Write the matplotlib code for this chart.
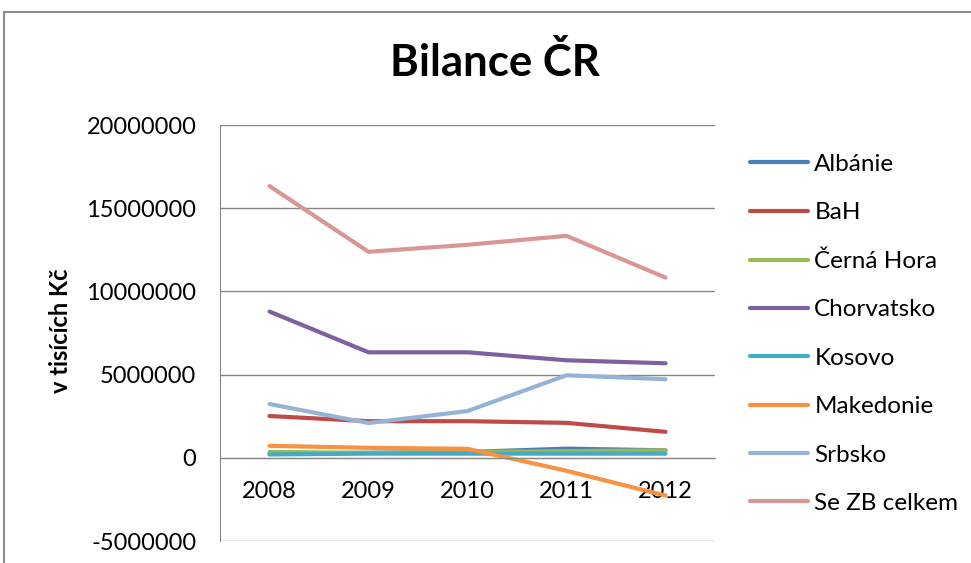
import matplotlib
matplotlib.use("Agg")
import matplotlib.pyplot as plt
from matplotlib.lines import Line2D

plt.rcParams['font.family'] = ['Lato', 'DejaVu Sans']

years = ['2008', '2009', '2010', '2011', '2012']
series_names = ['Albánie', 'BaH', 'Černá Hora', 'Chorvatsko', 'Kosovo',
                'Makedonie', 'Srbsko', 'Se ZB celkem']
albanie = [250000, 300000, 350000, 550000, 450000]
bah = [2510000, 2200000, 2200000, 2100000, 1560000]
cerna_hora = [350000, 300000, 350000, 400000, 450000]
chorvatsko = [8790000, 6340000, 6340000, 5860000, 5680000]
kosovo = [200000, 250000, 250000, 250000, 250000]
makedonie = [720000, 600000, 540000, -780000, -2270000]
srbsko = [3230000, 2090000, 2810000, 4960000, 4720000]
se_zb = [16330000, 12380000, 12800000, 13340000, 10830000]
values = [albanie, bah, cerna_hora, chorvatsko, kosovo, makedonie, srbsko, se_zb]
colors = ['#4A7EBB', '#BE4B48', '#98B954', '#7D60A0', '#46AAC5',
          '#F69240', '#95B3D7', '#D99694']
yticks = [-5000000, 0, 5000000, 10000000, 15000000, 20000000]

W, H = 971, 563
fig = plt.figure(figsize=(W / 100, H / 100), dpi=100)

# outer chart frame (cut off at right / bottom)
fig.add_artist(Line2D([4 / W, 1], [1 - 12 / H, 1 - 12 / H], color='#8c8c8c', lw=1.5))
fig.add_artist(Line2D([4 / W, 4 / W], [0, 1 - 12 / H], color='#8c8c8c', lw=1.5))

ax = fig.add_axes([220 / W, (H - 541) / H, 495 / W, 416 / H])
x = list(range(len(years)))
for name, vals, c in zip(series_names, values, colors):
    ax.plot(x, vals, color=c, lw=3, label=name, solid_capstyle='round')

ax.set_xlim(-0.5, len(years) - 0.5)
ax.set_ylim(yticks[0], yticks[-1])
ax.set_yticks(yticks)
ax.set_yticklabels([str(v) for v in yticks])
ax.set_xticks(x)
ax.set_xticklabels(years)
ax.grid(axis='y', color='#868686', lw=1)
ax.set_axisbelow(True)
for s in ['top', 'right']:
    ax.spines[s].set_visible(False)
ax.spines['left'].set_color('#868686')
ax.spines['bottom'].set_color('#868686')
ax.spines['bottom'].set_position(('data', 0))
ax.tick_params(axis='both', length=0, labelsize=17, colors='black')
ax.tick_params(axis='y', pad=17)
ax.tick_params(axis='x', pad=17)

fig.text(61 / W, 1 - 331 / H, 'v tisících Kč', fontsize=17, fontweight='bold',
         rotation=90, ha='center', va='center')
fig.text(495 / W, 1 - 62 / H, 'Bilance ČR', fontsize=31.5, fontweight='bold',
         ha='center', va='center')

leg = ax.legend(loc='upper left', bbox_to_anchor=(728 / W, 1 - 132 / H),
                bbox_transform=fig.transFigure, frameon=False,
                fontsize=17.5, handlelength=2.4, handletextpad=0.25,
                labelspacing=1.125)

fig.savefig('out.png', dpi=100)
